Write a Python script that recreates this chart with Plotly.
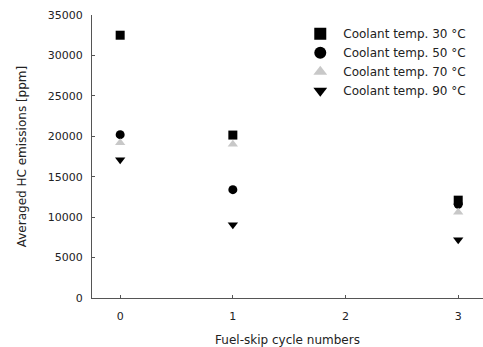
import plotly.graph_objects as go

cycles = [0, 1, 3]
series_names = ["Coolant temp. 30 °C", "Coolant temp. 50 °C", "Coolant temp. 70 °C", "Coolant temp. 90 °C"]
hc_30 = [32500, 20150, 12100]
hc_50 = [20200, 13400, 11600]
hc_70 = [19200, 19000, 10600]
hc_90 = [17100, 9050, 7200]

values = [hc_30, hc_50, hc_70, hc_90]
symbols = ["square", "circle", "triangle-up", "triangle-down"]
colors = ["#000000", "#000000", "#c8c8c8", "#000000"]

fig = go.Figure()
for name, vals, sym, col in zip(series_names, values, symbols, colors):
    fig.add_trace(go.Scatter(
        x=cycles, y=vals, mode="markers", name=name,
        marker=dict(symbol=sym, size=9, color=col, line=dict(width=0)),
    ))

fig.update_layout(
    width=483, height=347,
    margin=dict(l=92, r=0, t=15, b=49),
    paper_bgcolor="white", plot_bgcolor="white",
    font=dict(family="DejaVu Sans, sans-serif", size=12, color="#222"),
    showlegend=True,
    legend=dict(x=0.525, y=0.985, xanchor="left", yanchor="top",
                bgcolor="rgba(0,0,0,0)", font=dict(size=12),
                itemsizing="constant", tracegroupgap=0, itemwidth=36),
)
fig.update_xaxes(
    range=[-0.25, 3.22], tickvals=[0, 1, 2, 3], ticktext=["0", "1", "2", "3"],
    showgrid=False, zeroline=False, showline=True, linecolor="#555", linewidth=1,
    ticks="inside", ticklen=3, tickcolor="#555", ticklabelstandoff=8,
    title=dict(text="Fuel-skip cycle numbers", standoff=14, font=dict(size=12)),
    tickfont=dict(size=11),
)
fig.update_yaxes(
    range=[0, 35000], tickvals=[0, 5000, 10000, 15000, 20000, 25000, 30000, 35000],
    tickformat="d",
    showgrid=False, zeroline=False, showline=True, linecolor="#555", linewidth=1,
    ticks="inside", ticklen=3, tickcolor="#555", ticklabelstandoff=6,
    title=dict(text="Averaged HC emissions [ppm]", standoff=18, font=dict(size=12)),
    tickfont=dict(size=11),
)

fig.write_html("out.html")
